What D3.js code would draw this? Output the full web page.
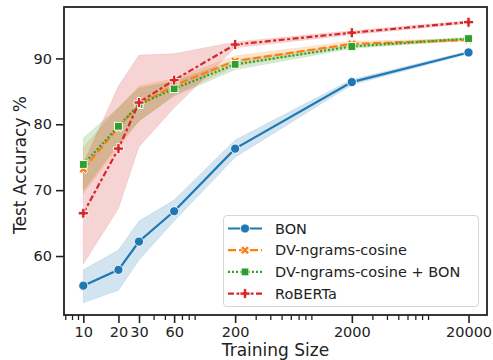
<!DOCTYPE html>
<html><head><meta charset="utf-8">
<script src="https://cdn.jsdelivr.net/npm/d3@7"></script>
<style>body{margin:0;background:#fff}svg{display:block}text{font-family:"DejaVu Sans",sans-serif;fill:#222}</style>
</head><body><svg id="c" width="493" height="360"></svg>
<script>
const sizes = [10, 20, 30, 60, 200, 2000, 20000];
const xTickLabels = ["10", "20", "30", "60", "200", "2000", "20000"];
const yTicks = [60, 70, 80, 90];
const seriesNames = ["BON", "DV-ngrams-cosine", "DV-ngrams-cosine + BON", "RoBERTa"];
const bon   = [55.5, 57.9, 62.2, 66.8, 76.3, 86.4, 90.9];
const bonLo = [52.9, 54.8, 59.4, 65.3, 75.0, 86.0, 90.7];
const bonHi = [57.9, 60.9, 65.3, 68.5, 77.6, 86.8, 91.1];
const dv    = [73.2, 79.5, 83.0, 85.9, 89.6, 92.2, 92.8];
const dvLo  = [69.5, 76.5, 80.5, 84.5, 88.8, 91.8, 92.6];
const dvHi  = [76.5, 82.5, 85.8, 86.9, 90.4, 92.6, 93.0];
const dvb   = [73.9, 79.7, 83.0, 85.4, 89.1, 91.8, 93.0];
const dvbLo = [70.0, 77.0, 80.5, 84.3, 88.3, 91.5, 92.8];
const dvbHi = [77.9, 82.5, 85.5, 86.5, 89.8, 92.1, 93.2];
const rob   = [66.5, 76.3, 83.3, 86.7, 92.1, 93.9, 95.5];
const robLo = [58.8, 67.2, 76.6, 82.5, 91.6, 93.6, 95.3];
const robHi = [74.0, 85.8, 90.5, 90.7, 92.5, 94.2, 95.7];

const colors = ["#1f77b4", "#ff7f0e", "#2ca02c", "#d62728"];
const dashes = [null, "8,3", "2,2", "6,2.5,3,2.5"];
const markers = ["circle", "x", "square", "plus"];
const series = [
  {name: seriesNames[0], v: bon, lo: bonLo, hi: bonHi},
  {name: seriesNames[1], v: dv, lo: dvLo, hi: dvHi},
  {name: seriesNames[2], v: dvb, lo: dvbLo, hi: dvbHi},
  {name: seriesNames[3], v: rob, lo: robLo, hi: robHi}
];

const L = 64, R = 487, T = 7, B = 315;
const svg = d3.select("#c");
const x = d3.scaleLog().domain([6.83, 28800]).range([L, R]);
const y = d3.scaleLinear().domain([51.05, 97.8]).range([B, T]);

// bands
series.forEach((s, i) => {
  const area = d3.area().x((d, j) => x(sizes[j])).y0((d, j) => y(s.lo[j])).y1((d, j) => y(s.hi[j]));
  svg.append("path").attr("d", area(s.v)).attr("fill", colors[i]).attr("fill-opacity", 0.2)
    .attr("stroke", colors[i]).attr("stroke-opacity", 0.15).attr("stroke-width", 0.8);
});

function marker(g, type, cx, cy, color) {
  let p;
  if (type === "circle") p = g.append("circle").attr("cx", cx).attr("cy", cy).attr("r", 4.6);
  else if (type === "square") p = g.append("rect").attr("x", cx - 3.9).attr("y", cy - 3.9).attr("width", 7.8).attr("height", 7.8);
  else if (type === "x") p = g.append("path").attr("d", d3.symbol(d3.symbolCross, 48)()).attr("transform", `translate(${cx},${cy}) rotate(45)`);
  else p = g.append("path").attr("d", d3.symbol(d3.symbolCross, 56)()).attr("transform", `translate(${cx},${cy})`);
  p.attr("fill", color).attr("stroke", "#fff").attr("stroke-width", 0.9);
}

// lines + markers
series.forEach((s, i) => {
  const line = d3.line().x((d, j) => x(sizes[j])).y(d => y(d));
  svg.append("path").attr("d", line(s.v)).attr("fill", "none").attr("stroke", colors[i])
    .attr("stroke-width", 2.2).attr("stroke-dasharray", dashes[i]);
  const g = svg.append("g");
  s.v.forEach((d, j) => marker(g, markers[i], x(sizes[j]), y(d), colors[i]));
});

// axes
const xAxis = d3.axisBottom(x).tickValues(sizes).tickFormat((d, i) => xTickLabels[i]).tickSize(8).tickPadding(4);
const gx = svg.append("g").attr("transform", `translate(0,${B})`).call(xAxis);
const minor = [];
[1, 10, 100, 1000].forEach(dec => { for (let k = 2; k <= 9; k++) { const v = k * dec; if (v >= 6.83 && v <= 28800 && !sizes.includes(v)) minor.push(v); } });
svg.append("g").attr("transform", `translate(0,${B})`).call(d3.axisBottom(x).tickValues(minor).tickFormat("").tickSize(5))
  .call(g => g.select(".domain").remove()).selectAll("line").attr("stroke-width", 1.3).attr("stroke", "#222");
const gy = svg.append("g").attr("transform", `translate(${L},0)`).call(d3.axisLeft(y).tickValues(yTicks).tickSize(8).tickPadding(4));
[gx, gy].forEach(g => {
  g.select(".domain").remove();
  g.selectAll("line").attr("stroke", "#222").attr("stroke-width", 1.6);
  g.selectAll("text").attr("font-size", "14.5px").attr("fill", "#222").style("font-family", "DejaVu Sans");
});
svg.append("rect").attr("x", L).attr("y", T).attr("width", R - L).attr("height", B - T)
  .attr("fill", "none").attr("stroke", "#222").attr("stroke-width", 1.8);

svg.append("text").attr("x", (L + R) / 2).attr("y", 355.5).attr("text-anchor", "middle").attr("font-size", "17px").text("Training Size");
svg.append("text").attr("transform", `translate(25.5,165) rotate(-90)`).attr("text-anchor", "middle").attr("font-size", "17px").text("Test Accuracy %");

// legend
const lg = svg.append("g");
lg.append("rect").attr("x", 223.5).attr("y", 215.5).attr("width", 255).attr("height", 91).attr("rx", 3.5)
  .attr("fill", "#fff").attr("fill-opacity", 0.8).attr("stroke", "#d5d5d5").attr("stroke-width", 1);
series.forEach((s, i) => {
  const yy = 228.5 + i * 21.7;
  lg.append("line").attr("x1", 228).attr("x2", 262).attr("y1", yy).attr("y2", yy).attr("stroke", colors[i])
    .attr("stroke-width", 2.2).attr("stroke-dasharray", dashes[i]);
  marker(lg, markers[i], 245, yy, colors[i]);
  lg.append("text").attr("x", 275).attr("y", yy).attr("dy", "0.35em").attr("font-size", "14.5px").text(s.name);
});
</script></body></html>
